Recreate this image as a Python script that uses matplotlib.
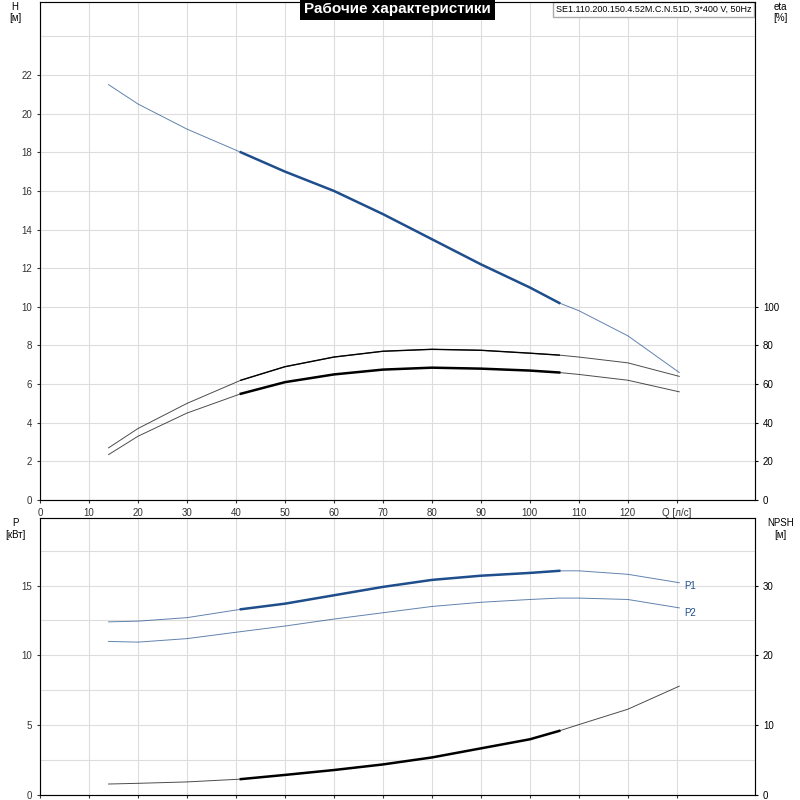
import matplotlib
matplotlib.use("Agg")
import matplotlib.pyplot as plt
import numpy as np

q = [14, 20, 30, 41, 50, 60, 70, 80, 90, 100, 106, 110, 120, 130.5]
head = [21.5, 20.5, 19.2, 18.0, 17.0, 16.0, 14.8, 13.5, 12.2, 11.0, 10.2, 9.8, 8.5, 6.6]
eta1 = [27, 37, 50, 62, 69, 74, 77, 78, 77.5, 76, 75, 74, 71, 64]
eta2 = [23.5, 33, 45, 55, 61, 65, 67.5, 68.5, 68, 67, 66, 65, 62, 56]
p1 = [12.4, 12.45, 12.7, 13.3, 13.7, 14.3, 14.9, 15.4, 15.7, 15.9, 16.05, 16.05, 15.8, 15.2]
p2 = [11.0, 10.95, 11.2, 11.7, 12.1, 12.6, 13.05, 13.5, 13.8, 14.0, 14.1, 14.1, 14.0, 13.4]
npsh = [1.6, 1.7, 1.9, 2.3, 2.9, 3.6, 4.4, 5.4, 6.7, 8.0, 9.2, 10.1, 12.3, 15.6]
q_lo, q_hi = 41, 106
x_ticks = list(range(0, 140, 10))
h_ticks = list(range(0, 24, 2))
eta_ticks = list(range(0, 120, 20))
p_ticks = [0, 5, 10, 15]
npsh_ticks = [0, 10, 20, 30]

qa = np.array(q)
mask = (qa >= q_lo) & (qa <= q_hi)

plt.rcParams['font.family'] = ['Liberation Sans', 'DejaVu Sans']
fig = plt.figure(figsize=(8, 8), dpi=100)
ax1 = fig.add_axes([0.05, 0.375, 0.894, 0.623])
ax2 = fig.add_axes([0.05, 0.006, 0.894, 0.346])
BLUE = '#1f4e8c'
GRID = '#dddddd'

def style(ax, ylim, yticks, minor):
    ax.set_xlim(0, 146)
    ax.set_ylim(*ylim)
    ax.set_xticks(x_ticks)
    ax.set_yticks(yticks)
    ax.set_yticks(minor, minor=True)
    ax.grid(True, which='both', color=GRID, lw=0.8)
    ax.tick_params(labelsize=7, length=2, colors='#333333', which='both')
    ax.tick_params(which='minor', length=0)
    for s in ax.spines.values():
        s.set_color('#888888')

def draw(ax, y, color, thin=0.7, thick=1.8, hi=True):
    y = np.array(y)
    ax.plot(qa, y, color=color, lw=thin, alpha=0.7)
    if hi:
        ax.plot(qa[mask], y[mask], color=color, lw=thick)

style(ax1, (0, 25.8), h_ticks, [24])
draw(ax1, head, BLUE)
e1 = ax1.twinx()
e1.set_ylim(0, 258)
e1.set_yticks(eta_ticks)
e1.tick_params(labelsize=7, length=2)
draw(e1, eta1, 'black', thick=1.0)
draw(e1, eta2, 'black', thick=1.8)
ax1.set_xticklabels([str(t) for t in x_ticks[:-1]] + ['Q [л/с]'])
ax1.text(-0.035, 1.0, 'H\n[м]', transform=ax1.transAxes, fontsize=7, ha='center', va='top')
e1.text(1.035, 1.0, 'eta\n[%]', transform=ax1.transAxes, fontsize=7, ha='center', va='top')
ax1.text(0.5, 0.985, 'Рабочие характеристики', transform=ax1.transAxes, fontsize=11,
         color='white', ha='center', va='center', fontweight='bold',
         bbox=dict(facecolor='black', edgecolor='none', pad=3))
ax1.text(0.995, 0.993, 'SE1.110.200.150.4.52M.C.N.51D, 3*400 V, 50Hz', transform=ax1.transAxes,
         fontsize=6.5, ha='right', va='top',
         bbox=dict(facecolor='white', edgecolor='#aaaaaa', pad=2))

style(ax2, (0, 19.8), p_ticks, [2.5, 7.5, 12.5, 17.5])
ax2.set_xticklabels([])
draw(ax2, p1, BLUE)
draw(ax2, p2, BLUE, hi=False)
ax2.text(q[-1] + 1, p1[-1] - 0.2, 'P1', fontsize=7, color=BLUE, va='center')
ax2.text(q[-1] + 1, p2[-1] - 0.4, 'P2', fontsize=7, color=BLUE, va='center')
n2 = ax2.twinx()
n2.set_ylim(0, 39.6)
n2.set_yticks(npsh_ticks)
n2.tick_params(labelsize=7, length=2)
draw(n2, npsh, 'black', thick=1.8)
ax2.text(-0.035, 1.0, 'P\n[кВт]', transform=ax2.transAxes, fontsize=7, ha='center', va='top')
ax2.text(1.035, 1.0, 'NPSH\n[м]', transform=ax2.transAxes, fontsize=7, ha='center', va='top')

fig.savefig('out.png', dpi=100)
